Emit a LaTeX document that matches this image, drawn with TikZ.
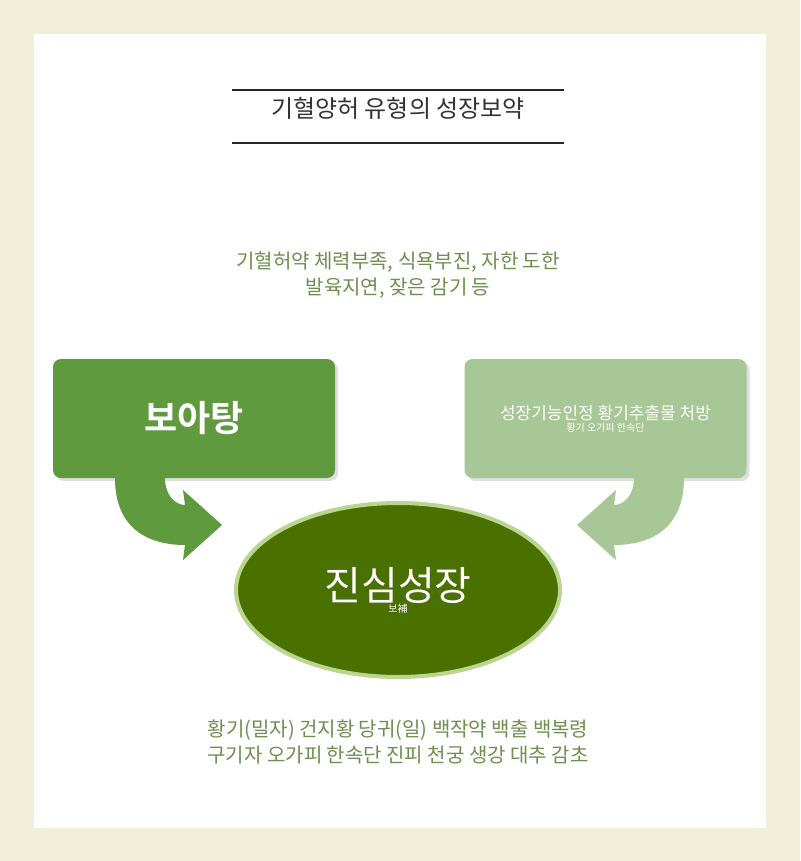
\documentclass[tikz,border=0pt]{standalone}
\usepackage{fontspec}
\setmainfont{Noto Sans CJK KR}[BoldFont={Noto Sans CJK KR Bold}]
\usetikzlibrary{shadows,shapes.geometric}
\definecolor{bg}{HTML}{F1EFDA}
\definecolor{txtg}{HTML}{6E8F4F}
\definecolor{boxa}{HTML}{5F9A3E}
\definecolor{boxb}{HTML}{A8C796}
\definecolor{ell}{HTML}{4A7000}
\definecolor{ellb}{HTML}{B8D690}
\tikzset{
 gt/.style={text=txtg,font=\fontsize{20}{26}\selectfont,align=center},
 box/.style={rounded corners=8pt,minimum width=282pt,minimum height=119pt,text=white,align=center,drop shadow={shadow xshift=3pt,shadow yshift=-3pt,opacity=0.25}},
}
\begin{document}
\begin{tikzpicture}[x=1pt,y=-1pt]
\fill[bg] (0,0) rectangle (800,861);
\fill[white] (34,34) rectangle (766,828);
\node (title) at (398,108) {\fontsize{24}{28}\selectfont\color[HTML]{333333}기혈양허 유형의 성장보약};
\draw[line width=1.5pt,color=black!85] (232,90) -- (564,90) (232,143) -- (564,143);
\node[gt] (sym) at (398,275) {기혈허약 체력부족, 식욕부진, 자한 도한\\발육지연, 잦은 감기 등};
\node[box,fill=boxa] (a) at (194,418.5) {\fontsize{36}{40}\selectfont\bfseries 보아탕};
\node[box,fill=boxb] (b) at (605.5,418.5) {\fontsize{17}{26}\selectfont 성장기능인정 황기추출물 처방\\황기 오가피 한속단};
\fill[boxa] (115,478) .. controls (115,530) and (150,545) .. (185,545) -- (183,560) -- (222,525) -- (183,490) -- (185,505) .. controls (175,505) and (165,495) .. (165,478) -- cycle;
\fill[boxb] (684,478) .. controls (684,530) and (649,545) .. (614,545) -- (616,560) -- (577,525) -- (616,490) -- (614,505) .. controls (624,505) and (634,495) .. (634,478) -- cycle;
\node[ellipse,draw=ellb,line width=4pt,fill=ell,minimum width=324pt,minimum height=174pt,text=white,align=center,inner sep=0pt] (c) at (398,590) {\fontsize{40}{54}\selectfont 진심성장\\보補};
\node[gt] (rx) at (398,742) {황기(밀자) 건지황 당귀(일) 백작약 백출 백복령\\구기자 오가피 한속단 진피 천궁 생강 대추 감초};
\end{tikzpicture}
\end{document}
